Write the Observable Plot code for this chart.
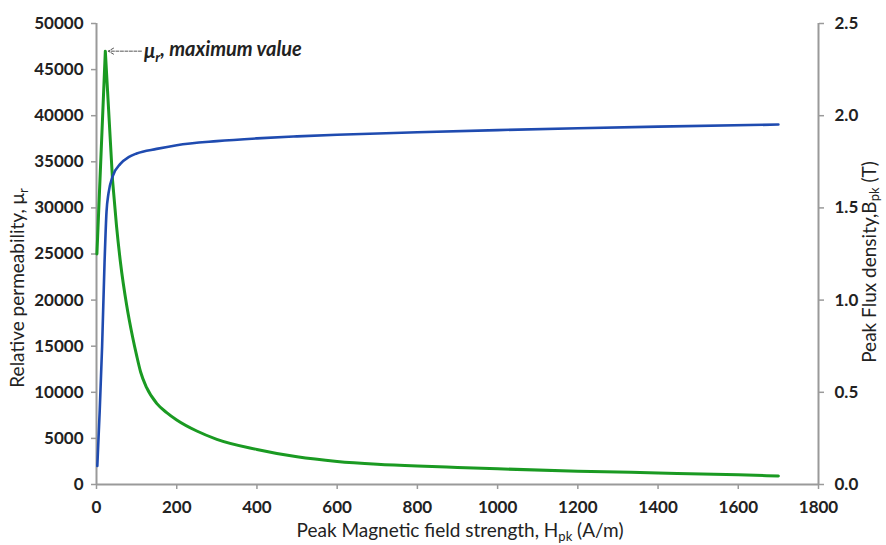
<!DOCTYPE html>
<html><head><meta charset="utf-8">
<script src="https://cdn.jsdelivr.net/npm/d3@7"></script>
<script src="https://cdn.jsdelivr.net/npm/@observablehq/plot@0.6"></script>
<style>
body{margin:0;background:#fff;}
#chart svg{font-family:Lato,"Open Sans",sans-serif;}
</style>
</head><body><div id="chart"></div>
<script>
// Relative permeability (left axis)
const muH    = [1, 22, 40, 50, 60, 75, 90, 100, 110, 125, 150, 175, 200, 250, 300, 400, 500, 600, 700, 800, 900, 1000, 1200, 1400, 1600, 1700];
const muVals = [25000, 47000, 33000, 28000, 24000, 19500, 16000, 14000, 12200, 10500, 8800, 7800, 7000, 5800, 4900, 3800, 3000, 2500, 2200, 2000, 1850, 1700, 1450, 1250, 1050, 920];
// Peak flux density (right axis, T)
const bH    = [2, 8, 14, 20, 25, 30, 40, 60, 80, 100, 150, 200, 300, 400, 500, 600, 800, 1000, 1200, 1400, 1700];
const bVals = [0.10, 0.40, 0.75, 1.20, 1.48, 1.58, 1.67, 1.74, 1.775, 1.795, 1.82, 1.84, 1.862, 1.877, 1.888, 1.897, 1.91, 1.922, 1.932, 1.941, 1.952];
// Ticks
const xTicks = [0, 200, 400, 600, 800, 1000, 1200, 1400, 1600, 1800];
const leftTicks = [0, 5000, 10000, 15000, 20000, 25000, 30000, 35000, 40000, 45000, 50000];
const rightTicks = [0, 0.5, 1.0, 1.5, 2.0, 2.5];
// Annotation
const annotH = [22];
const annotMu = [47000];
const annotFromH = [112];
const annotLabel = ["maximum value"];

const sf = 50000 / 2.5;
const muData = muH.map((h, i) => ({H: h, v: muVals[i]}));
const bData = bH.map((h, i) => ({H: h, v: bVals[i] * sf}));
const annData = annotH.map((h, i) => ({H: h, mu: annotMu[i], from: annotFromH[i]}));

const axisColor = "#9a9a9a";
const textColor = "#222";
const green = "#1a9a22";

const plot = Plot.plot({
  width: 886, height: 545,
  marginLeft: 96, marginRight: 68, marginTop: 23, marginBottom: 61,
  x: {domain: [0, 1800]},
  y: {domain: [0, 50000]},
  style: {fontFamily: "Lato, 'Open Sans', sans-serif", background: "#fff"},
  marks: [
    Plot.axisY(leftTicks, {tickSize: 5, tickPadding: 8, tickFormat: d => String(d), label: null, stroke: axisColor, strokeWidth: 1.5, fill: textColor, fontSize: 17, fontWeight: "bold"}),
    Plot.axisY(rightTicks.map(d => d * sf), {anchor: "right", tickSize: 5, tickPadding: 11, tickFormat: d => (d / sf).toFixed(1), label: null, stroke: axisColor, strokeWidth: 1.5, fill: textColor, fontSize: 17, fontWeight: "bold"}),
    Plot.axisX(xTicks, {tickSize: 5, tickPadding: 11, tickFormat: d => String(d), label: null, stroke: axisColor, strokeWidth: 1.5, fill: textColor, fontSize: 17, fontWeight: "bold"}),
    Plot.ruleX([0, 1800], {stroke: axisColor, strokeWidth: 2}),
    Plot.ruleY([0], {stroke: axisColor, strokeWidth: 2}),
    Plot.line(muData.filter(d => d.H <= 40), {x: "H", y: "v", stroke: green, strokeWidth: 3}),
    Plot.line(muData.filter(d => d.H >= 40), {x: "H", y: "v", stroke: green, strokeWidth: 3, curve: "monotone-x"}),
    Plot.line(bData, {x: "H", y: "v", stroke: "#1f4bb0", strokeWidth: 2.6, curve: "monotone-x"}),
    Plot.arrow(annData, {x1: "from", y1: "mu", x2: "H", y2: "mu", stroke: "#555", strokeWidth: 1, headLength: 9, insetEnd: 3, strokeDasharray: "3,1.5"})
  ]
});

document.getElementById("chart").appendChild(plot);
const svg = d3.select(plot);
const xs = plot.scale("x"), ys = plot.scale("y");

// Annotation label
const ann = svg.append("text")
  .attr("x", xs.apply(annotFromH[0]) + 3)
  .attr("y", ys.apply(annotMu[0]))
  .attr("dy", "0.35em")
  .attr("text-anchor", "start")
  .attr("font-size", 20).attr("font-style", "italic").attr("font-weight", "bold")
  .attr("fill", textColor);
ann.append("tspan").text("μ");
ann.append("tspan").attr("font-size", 14).attr("dy", "0.3em").text("r");
ann.append("tspan").attr("dy", "-0.3em").text(", " + annotLabel[0]);

// X title
const xt = svg.append("text")
  .attr("x", (xs.range[0] + xs.range[1]) / 2 + 3).attr("y", 537)
  .attr("text-anchor", "middle").attr("font-size", 19).attr("fill", textColor);
xt.append("tspan").text("Peak Magnetic field strength, H");
xt.append("tspan").attr("font-size", 13).attr("dy", 4).text("pk");
xt.append("tspan").attr("dy", -4).text(" (A/m)");

// Left title
const lt = svg.append("text")
  .attr("transform", "translate(24,288) rotate(-90)")
  .attr("text-anchor", "middle").attr("font-size", 19).attr("fill", textColor);
lt.append("tspan").text("Relative permeability, μ");
lt.append("tspan").attr("font-size", 13).attr("dy", 4).text("r");

// Right title
const rt = svg.append("text")
  .attr("transform", "translate(876,262) rotate(-90)")
  .attr("text-anchor", "middle").attr("font-size", 19).attr("fill", textColor);
rt.append("tspan").text("Peak Flux density,B");
rt.append("tspan").attr("font-size", 13).attr("dy", 3).text("pk");
rt.append("tspan").attr("dy", -3).text(" (T)");
</script>
</body></html>
